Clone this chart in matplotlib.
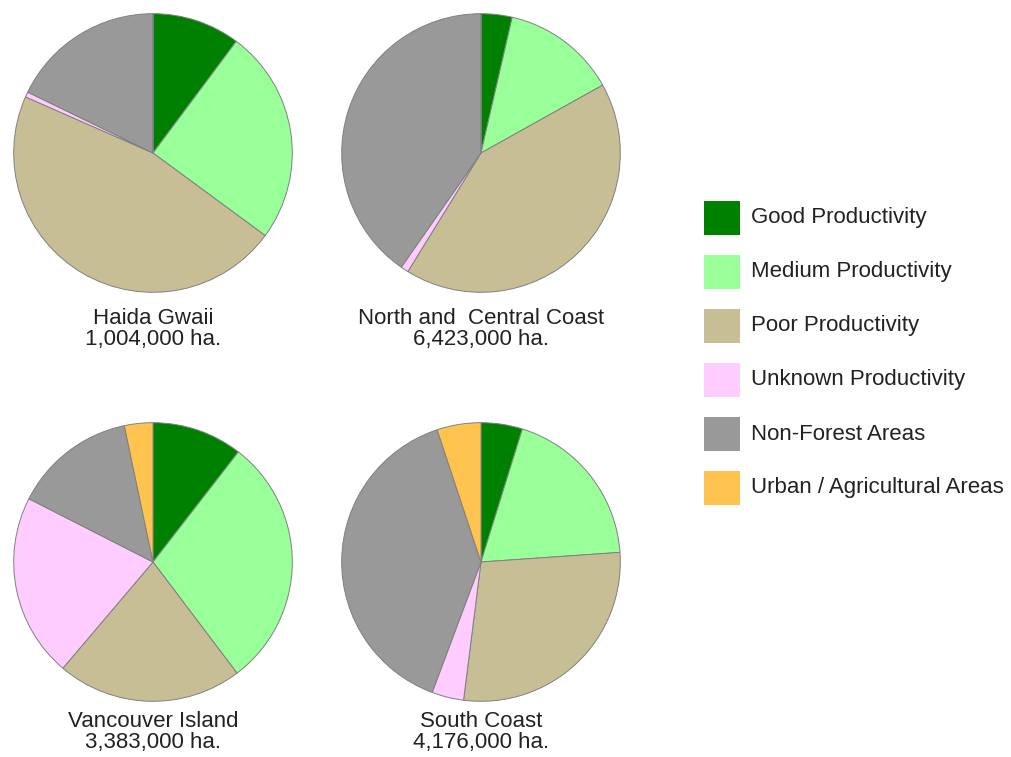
import matplotlib
matplotlib.use("Agg")
import matplotlib.pyplot as plt
from matplotlib.patches import Rectangle

plt.rcParams['font.family'] = ['Liberation Sans', 'DejaVu Sans']

categories = ['Good Productivity', 'Medium Productivity', 'Poor Productivity',
              'Unknown Productivity', 'Non-Forest Areas', 'Urban / Agricultural Areas']
colors = ['#008000', '#99FF99', '#C8BE96', '#FFCCFF', '#999999', '#FFC450']

regions = ['Haida Gwaii', 'North and  Central Coast', 'Vancouver Island', 'South Coast']
areas = ['1,004,000 ha.', '6,423,000 ha.', '3,383,000 ha.', '4,176,000 ha.']

# percent shares
haida = [10.2, 24.9, 46.5, 0.6, 17.8, 0.0]
north_central = [3.6, 13.3, 41.9, 0.9, 40.3, 0.0]
vancouver = [10.5, 29.2, 21.5, 21.3, 14.2, 3.3]
south_coast = [4.8, 19.1, 28.1, 3.7, 39.2, 5.1]
shares = [haida, north_central, vancouver, south_coast]

W, H = 1012, 757
fig = plt.figure(figsize=(W / 100, H / 100), dpi=100)

# pie centres in pixels
centres = [(153, 153), (481, 153), (153, 562), (481, 562)]
r = 140

for (cx, cy), vals, name, area in zip(centres, shares, regions, areas):
    ax = fig.add_axes([(cx - r) / W, (H - cy - r) / H, 2 * r / W, 2 * r / H])
    ax.pie(vals, colors=colors, startangle=90, counterclock=False,
           wedgeprops=dict(edgecolor='#808080', linewidth=0.7))
    ax.set_xlim(-1.005, 1.005)
    ax.set_ylim(-1.005, 1.005)
    ax.set_aspect('equal')
    # keep the bottom row label inside the image
    ty = min(cy + r + 36, H - 25)
    fig.text(cx / W, (H - ty) / H, name + '\n' + area,
             ha='center', va='center', fontsize=16, color='#222222',
             linespacing=1.0)

# legend drawn by hand: 35px swatches, 54px row pitch
for i, (c, lab) in enumerate(zip(colors, categories)):
    y = 218 + i * 54
    fig.patches.append(Rectangle((704 / W, (H - y - 17) / H), 36 / W, 34 / H,
                                 transform=fig.transFigure, facecolor=c,
                                 edgecolor='none'))
    fig.text(751 / W, (H - y) / H, lab, ha='left', va='center',
             fontsize=16, color='#222222')

fig.savefig('out.png', dpi=100, facecolor='white')
